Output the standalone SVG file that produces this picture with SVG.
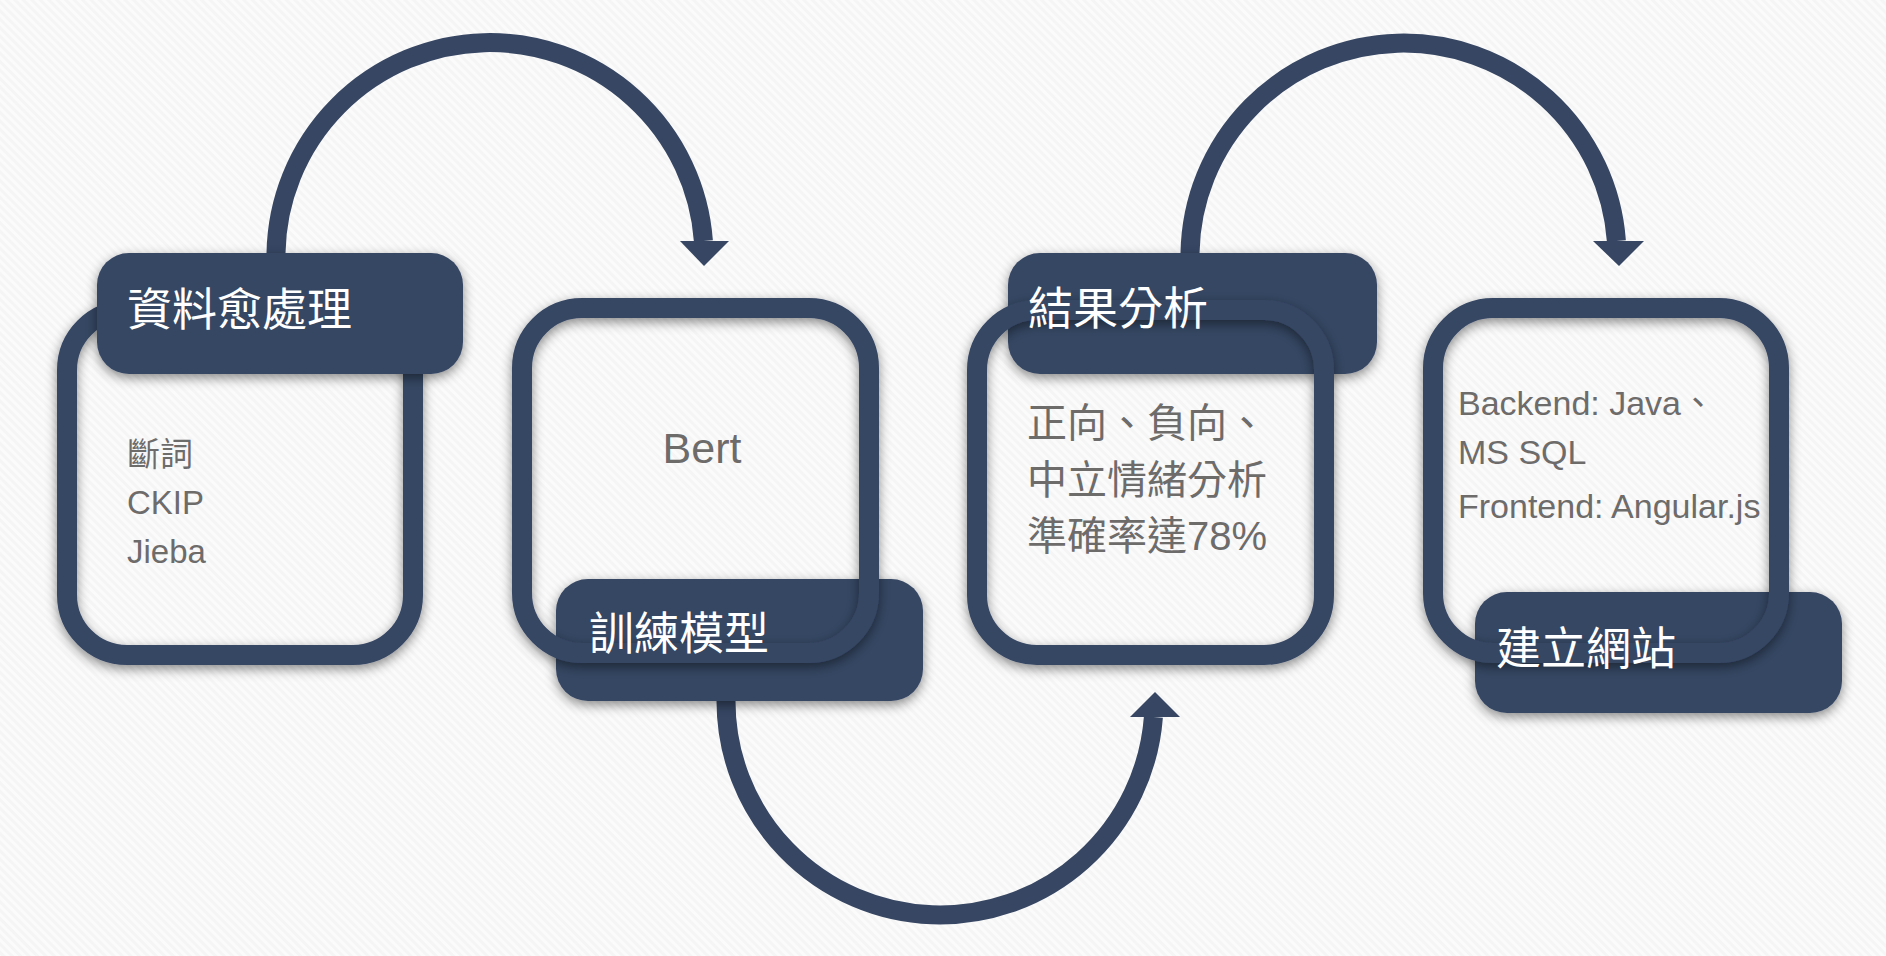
<svg xmlns="http://www.w3.org/2000/svg" width="1886" height="956" viewBox="0 0 1886 956">
  <defs>
    <pattern id="bgp" width="6" height="6" patternUnits="userSpaceOnUse" patternTransform="rotate(-45)">
      <rect width="6" height="6" fill="#f5f5f5"/>
      <rect width="3" height="6" fill="#fbfbfb"/>
    </pattern>
    <filter id="sh" x="-20%" y="-20%" width="140%" height="140%">
      <feDropShadow dx="0" dy="4" stdDeviation="6" flood-color="#000" flood-opacity="0.45"/>
    </filter>
    <style>
      .ring { fill: none; stroke: #364663; stroke-width: 20; }
      .hdr { fill: #364663; }
      .arc { fill: none; stroke: #364663; stroke-width: 19; }
      .head { fill: #364663; }
      .ht { fill: #ffffff; font-family: "Noto Sans CJK TC", "Liberation Sans", sans-serif; font-size: 45px; }
      .bt { fill: #6e6b6b; font-family: "Liberation Sans", "Noto Sans CJK TC", sans-serif; }
    </style>
  </defs>
  <rect width="1886" height="956" fill="url(#bgp)"/>

  <g id="connectors">
    <path class="arc" d="M 276 275 L 276 253 A 214 214 0 0 1 703.4 241"/>
    <polygon class="head" points="680,241 729,241 704,266"/>
    <path class="arc" d="M 726 690 L 726 701 A 214 214 0 0 0 1153.4 717"/>
    <polygon class="head" points="1130,717 1180,717 1155,692"/>
    <path class="arc" d="M 1190 275 L 1190 253 A 213.5 213.5 0 0 1 1616.4 241"/>
    <polygon class="head" points="1593,241 1644,241 1619,266"/>
  </g>

  <g id="node-preprocess">
    <rect class="ring" x="67" y="310" width="346" height="345" rx="60" filter="url(#sh)"/>
    <rect class="hdr" x="97" y="253" width="366" height="121" rx="32" filter="url(#sh)"/>
    <text class="ht" x="127" y="326">資料愈處理</text>
    <text class="bt" font-size="33" x="127" y="466">斷詞</text>
    <text class="bt" font-size="33" x="127" y="514">CKIP</text>
    <text class="bt" font-size="33" x="127" y="563">Jieba</text>
  </g>

  <g id="node-train">
    <rect class="hdr" x="556" y="579" width="367" height="122" rx="32" filter="url(#sh)"/>
    <rect class="ring" x="522" y="308" width="347" height="345" rx="60" filter="url(#sh)"/>
    <text class="ht" x="589" y="650">訓練模型</text>
    <text class="bt" font-size="43" x="702" y="463" text-anchor="middle">Bert</text>
  </g>

  <g id="node-analysis">
    <rect class="hdr" x="1008" y="253" width="369" height="121" rx="32" filter="url(#sh)"/>
    <rect class="ring" x="977" y="310" width="347" height="345" rx="60" filter="url(#sh)"/>
    <text class="ht" x="1028" y="325">結果分析</text>
    <text class="bt" font-size="40" x="1027" y="437">正向、負向、</text>
    <text class="bt" font-size="40" x="1027" y="494">中立情緒分析</text>
    <text class="bt" font-size="40" x="1027" y="550">準確率達78%</text>
  </g>

  <g id="node-website">
    <rect class="hdr" x="1475" y="592" width="367" height="121" rx="32" filter="url(#sh)"/>
    <rect class="ring" x="1433" y="308" width="346" height="345" rx="60" filter="url(#sh)"/>
    <text class="ht" x="1496" y="665">建立網站</text>
    <text class="bt" font-size="34" x="1458" y="415">Backend: Java、</text>
    <text class="bt" font-size="34" x="1458" y="464">MS SQL</text>
    <text class="bt" font-size="34" x="1458" y="518">Frontend: Angular.js</text>
  </g>
</svg>
